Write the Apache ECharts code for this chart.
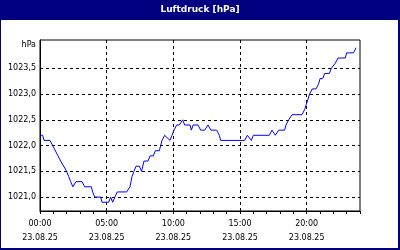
<!DOCTYPE html>
<html><head><meta charset="utf-8">
<script src="https://cdn.jsdelivr.net/npm/echarts@6/dist/echarts.min.js"></script>
<style>html,body{margin:0;padding:0;background:#000080;}#c{width:400px;height:250px;}</style>
</head><body><div id="c"></div>
<script>
const chartTitle = 'Luftdruck [hPa]';
const unitLabel = 'hPa';
const dateLabel = '23.08.25';
const times = ['00:00','00:12','00:18','00:45','00:57','01:06','01:21','01:27','01:33','01:42','02:00','02:09','02:18','02:28','02:42','03:09','03:21','03:51','03:57','04:06','04:33','04:39','05:09','05:18','05:27','05:37','05:48','06:30','06:45','06:54','07:03','07:12','07:27','07:37','07:48','08:06','08:15','08:30','08:39','08:57','09:03','09:09','09:21','09:30','09:45','09:54','10:03','10:15','10:27','10:42','10:51','11:15','11:21','11:29','11:51','12:03','12:21','12:36','12:43','12:49','13:15','13:27','13:33','15:21','15:33','15:42','15:51','16:00','17:12','17:24','17:30','17:39','17:54','18:21','18:27','18:39','18:54','19:39','19:51','19:58','20:06','20:13','20:25','20:42','20:54','21:00','21:12','21:21','21:42','21:51','22:00','22:09','22:21','22:54','23:00','23:31','23:42'];
const pressure = [1022.2,1022.2,1022.1,1022.1,1022.0,1022.0,1021.8,1021.8,1021.7,1021.7,1021.5,1021.4,1021.3,1021.2,1021.3,1021.3,1021.2,1021.2,1021.1,1021.0,1021.0,1020.9,1020.9,1021.0,1020.9,1021.0,1021.1,1021.1,1021.2,1021.4,1021.5,1021.6,1021.6,1021.5,1021.7,1021.7,1021.8,1021.8,1021.9,1021.9,1022.0,1022.1,1022.2,1022.2,1022.1,1022.2,1022.3,1022.4,1022.4,1022.5,1022.4,1022.4,1022.3,1022.4,1022.4,1022.3,1022.3,1022.4,1022.4,1022.3,1022.3,1022.2,1022.1,1022.1,1022.2,1022.2,1022.1,1022.2,1022.2,1022.3,1022.3,1022.2,1022.3,1022.3,1022.4,1022.5,1022.6,1022.6,1022.7,1022.8,1022.9,1023.0,1023.1,1023.1,1023.2,1023.3,1023.3,1023.4,1023.4,1023.5,1023.5,1023.6,1023.7,1023.7,1023.8,1023.8,1023.9];
const yTickValues = [1021.0,1021.5,1022.0,1022.5,1023.0,1023.5];
const xLabelHours = [0,5,10,15,20];

const toHour = t => { const p = t.split(':'); return +p[0] + (+p[1]) / 60; };
const seriesData = times.map((t, i) => [toHour(t), pressure[i]]);
const pad = n => (n < 10 ? '0' : '') + n;
const font = 'DejaVu Sans';

const chart = echarts.init(document.getElementById('c'), null, {renderer: 'canvas'});
chart.setOption({
  animation: false,
  backgroundColor: '#000080',
  graphic: [{type: 'rect', z: -100, silent: true, shape: {x: 1, y: 20, width: 397, height: 228}, style: {fill: '#ffffff'}}],
  title: {text: chartTitle, left: 'center', top: 4, padding: 0,
    textStyle: {color: '#ffffff', fontFamily: font, fontSize: 9, fontWeight: 'bold', lineHeight: 11}},
  grid: {left: 40, top: 40, right: 40, bottom: 39, show: true, backgroundColor: '#ffffff', borderColor: '#000000', borderWidth: 1, containLabel: false},
  xAxis: [{
    type: 'value', min: 0, max: 24, interval: 1, position: 'bottom',
    axisLine: {show: true, lineStyle: {color: '#000000', width: 1}},
    axisTick: {show: true, inside: false, length: 3, lineStyle: {color: '#000000'}},
    axisLabel: {show: false}, splitLine: {show: false}
  }, {
    type: 'value', min: 0, max: 24, interval: 5, position: 'bottom',
    axisLine: {show: false}, axisTick: {show: false},
    axisLabel: {show: true, margin: 6, color: '#000000', fontFamily: font, fontSize: 8, lineHeight: 14,
      formatter: v => xLabelHours.indexOf(v) >= 0 ? pad(v) + ':00\n' + dateLabel : ''},
    splitLine: {show: true, showMinLine: false, showMaxLine: false, lineStyle: {color: '#000000', type: [3, 3], width: 1}}
  }],
  yAxis: {
    type: 'value', min: 1020.73, max: 1024.05,
    name: unitLabel, nameLocation: 'end', nameGap: -5,
    nameTextStyle: {color: '#000000', fontFamily: font, fontSize: 8, align: 'right', verticalAlign: 'middle', padding: [0, 4, 0, 0]},
    axisLine: {show: true, lineStyle: {color: '#000000', width: 1}},
    axisTick: {show: false, customValues: yTickValues},
    axisLabel: {show: true, margin: 4, color: '#000000', fontFamily: font, fontSize: 8, customValues: yTickValues,
      formatter: v => v.toFixed(1).replace('.', ',')},
    splitLine: {show: true, lineStyle: {color: '#000000', type: [3, 3], width: 1}}
  },
  series: [{
    type: 'line', xAxisIndex: 0, yAxisIndex: 0, data: seriesData, showSymbol: false,
    lineStyle: {color: '#0000ff', width: 1}, z: 5
  }]
});
</script></body></html>
